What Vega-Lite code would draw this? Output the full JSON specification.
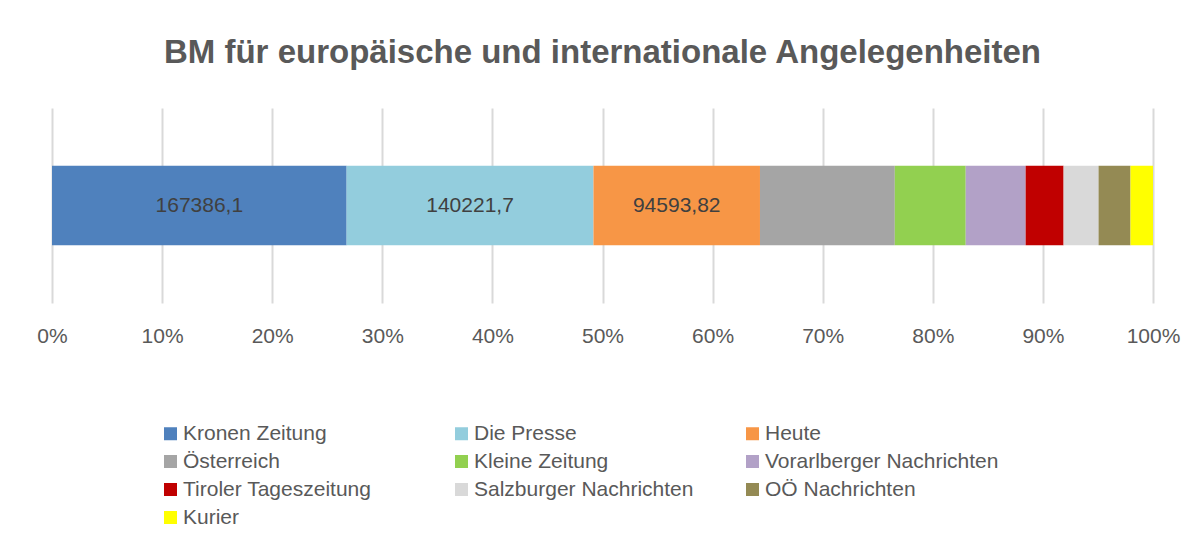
{
  "$schema": "https://vega.github.io/schema/vega-lite/v6.json",
  "autosize": "none",
  "width": 1101,
  "height": 195,
  "padding": {"left": 52, "top": 108, "right": 51, "bottom": 248},
  "background": "white",
  "config": {"view": {"stroke": null}},
  "title": {
    "text": "BM für europäische und internationale Angelegenheiten",
    "font": "Liberation Sans",
    "fontSize": 33,
    "fontWeight": "bold",
    "color": "#595959",
    "anchor": "middle",
    "offset": 38
  },
  "data": {
    "values": [
      {"chart": "BM", "order": 1, "zeitung": "Kronen Zeitung", "wert": 167386.1, "label": "167386,1"},
      {"chart": "BM", "order": 2, "zeitung": "Die Presse", "wert": 140221.7, "label": "140221,7"},
      {"chart": "BM", "order": 3, "zeitung": "Heute", "wert": 94593.82, "label": "94593,82"},
      {"chart": "BM", "order": 4, "zeitung": "Österreich", "wert": 76600, "label": ""},
      {"chart": "BM", "order": 5, "zeitung": "Kleine Zeitung", "wert": 40290, "label": ""},
      {"chart": "BM", "order": 6, "zeitung": "Vorarlberger Nachrichten", "wert": 34040, "label": ""},
      {"chart": "BM", "order": 7, "zeitung": "Tiroler Tageszeitung", "wert": 21560, "label": ""},
      {"chart": "BM", "order": 8, "zeitung": "Salzburger Nachrichten", "wert": 19860, "label": ""},
      {"chart": "BM", "order": 9, "zeitung": "OÖ Nachrichten", "wert": 18160, "label": ""},
      {"chart": "BM", "order": 10, "zeitung": "Kurier", "wert": 12770, "label": ""}
    ]
  },
  "transform": [
    {"stack": "wert", "groupby": ["chart"], "sort": [{"field": "order", "order": "ascending"}], "offset": "normalize", "as": ["v0", "v1"]},
    {"calculate": "(datum.v0 + datum.v1) / 2", "as": "mid"}
  ],
  "encoding": {
    "y": {"field": "chart", "type": "nominal", "axis": null, "scale": {"paddingInner": 0, "paddingOuter": 0.73}}
  },
  "layer": [
    {
      "mark": {"type": "bar", "strokeWidth": 0},
      "encoding": {
        "x": {
          "field": "v0", "type": "quantitative",
          "scale": {"domain": [0, 1], "nice": false},
          "axis": {
            "title": null, "format": ".0%", "values": [0, 0.1, 0.2, 0.3, 0.4, 0.5, 0.6, 0.7, 0.8, 0.9, 1],
            "grid": true, "gridColor": "#d9d9d9", "gridWidth": 2,
            "domain": false, "ticks": false, "labelFlush": false, "labelOverlap": false, "labelBound": false,
            "labelFont": "Liberation Sans", "labelFontSize": 21, "labelColor": "#595959",
            "labelPadding": 22
          }
        },
        "x2": {"field": "v1"},
        "color": {
          "field": "zeitung", "type": "nominal",
          "scale": {
            "domain": ["Kronen Zeitung", "Die Presse", "Heute", "Österreich", "Kleine Zeitung", "Vorarlberger Nachrichten", "Tiroler Tageszeitung", "Salzburger Nachrichten", "OÖ Nachrichten", "Kurier"],
            "range": ["#4F81BD", "#93CDDD", "#F79646", "#A5A5A5", "#92D050", "#B2A1C7", "#C00000", "#D9D9D9", "#948A54", "#FFFF00"]
          },
          "legend": {
            "title": null, "orient": "none", "legendX": 108, "legendY": 315,
            "columns": 3, "direction": "horizontal", "gridAlign": "all",
            "columnPadding": 34, "rowPadding": 6,
            "symbolType": "square", "symbolSize": 169, "symbolStrokeWidth": 0,
            "labelFont": "Liberation Sans", "labelFontSize": 21, "labelColor": "#595959",
            "labelOffset": 2, "padding": 0, "labelLimit": 400
          }
        }
      }
    },
    {
      "mark": {"type": "text", "font": "Liberation Sans", "fontSize": 21, "color": "#404040", "align": "center", "baseline": "middle"},
      "encoding": {
        "x": {"field": "mid", "type": "quantitative"},
        "text": {"field": "label"}
      }
    }
  ]
}
